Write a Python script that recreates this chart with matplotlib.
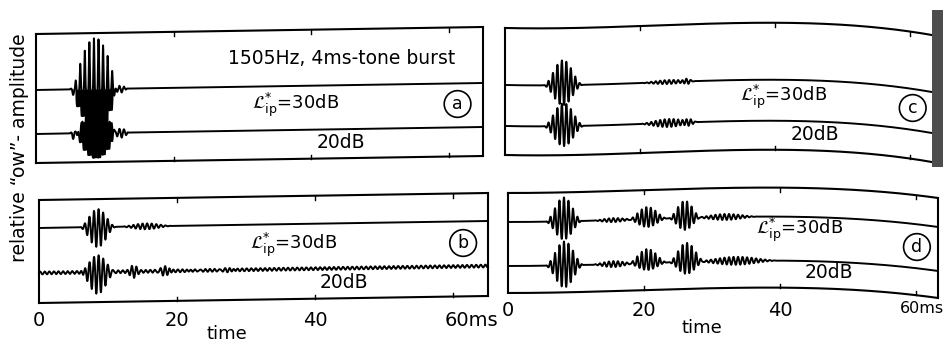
import numpy as np
import matplotlib.pyplot as plt
from matplotlib.patches import Rectangle
import matplotlib.transforms as mtransforms
from numpy.lib.stride_tricks import sliding_window_view

# 1505 Hz tone burst responses, time in ms, amplitudes in scan pixels
freq = 1.505  # cycles per ms
t = np.linspace(0, 66, 6000)

# bursts: (start ms, end ms, peak up, peak down)
a30_bursts = [(4.9, 6.3, 2, 6), (5.6, 11.6, 51, 42), (11.3, 13.2, 3, 4)]
a20_bursts = [(4.9, 6.3, 2, 6), (5.9, 11.5, 22, 25), (11.3, 13.4, 4, 5)]
b30_bursts = [(5.8, 11.2, 18, 20), (11.5, 19.5, 3, 3)]
b20_bursts = [(5.8, 11.2, 17, 22), (12.6, 14.8, 5, 5), (16.8, 19.6, 5, 5),
              (21.0, 24.0, 2, 2), (25.5, 29.0, 3, 3)]
b20_floor = 1.4
c30_bursts = [(5.6, 11.6, 25, 20), (19.5, 29.0, 2, 2), (26.0, 28.0, 2.5, 2.5)]
c20_bursts = [(5.6, 11.8, 23, 20), (19.5, 29.0, 4, 4), (26.0, 28.5, 3, 3)]
d30_bursts = [(5.4, 11.0, 24, 18), (12.0, 19.0, 2, 2), (17.5, 23.5, 12, 8),
              (23.5, 28.5, 17, 12), (27.0, 37.0, 3, 3)]
d20_bursts = [(5.4, 11.2, 24, 22), (12.0, 19.0, 3, 3), (17.5, 23.5, 14, 7),
              (23.5, 29.0, 19, 12), (27.0, 40.0, 4, 4)]

# bending of the recorder paper (px up, relative to left end)
a_drift_t, a_drift = [0, 65], [0, 7]
b_drift_t, b_drift = [0, 65], [0, 7]
c_drift_t, c_drift = [0, 20, 42, 56, 64], [0, 2, 5, 0, -8]
d_drift_t, d_drift = [0, 20, 41, 56, 63], [0, 3, 5, 1, -5]

tick_times = [20, 40, 60]
tick_labels = ['0', '20', '40', '60ms']

W, H = 948, 351


def trace(bursts, floor=0.0, peaky=1.0, flat=1.0):
    y = floor * np.sin(2 * np.pi * freq * t)
    for start, end, up, down in bursts:
        inside = (t >= start) & (t <= end)
        env = np.where(inside, 0.5 * (1 - np.cos(2 * np.pi * (t - start) / (end - start))), 0)
        env = env ** flat
        s = np.sin(2 * np.pi * freq * (t - start))
        y = y + env * (up * np.clip(s, 0, None) ** peaky + down * np.clip(s, None, 0))
    return y


def rolling(y, fn):
    # min / max over one carrier period, to mimic the smeared ink of an overdriven pen
    n = int(round(len(t) / t[-1] / freq))
    pad = np.pad(y, (n // 2, n - 1 - n // 2), mode='edge')
    return fn(sliding_window_view(pad, n), axis=1)


def draw_panel(left, right, top, bottom, xmax, base1, base2, y1, y2, drift_t, drift,
               labels=False, last_off=0, smear=False):
    ax = fig.add_axes([left / W, 1 - bottom / H, (right - left) / W, (bottom - top) / H])
    h = bottom - top
    ax.set_xlim(0, xmax)
    ax.set_ylim(0, h)
    for s in ax.spines.values():
        s.set_visible(False)
    ax.set_yticks([])
    deg = min(len(drift_t) - 1, 3)
    coef = np.polyfit(drift_t, drift, deg)
    m = t <= xmax
    tt = t[m]
    dr = np.polyval(coef, tt)
    kw = dict(color='black', lw=1.5, clip_on=False, solid_joinstyle='round')
    # frame
    ax.plot(tt, h + dr, **kw)
    ax.plot(tt, dr, **kw)
    d0 = np.polyval(coef, 0)
    d1 = np.polyval(coef, tt[-1])
    ax.plot([0, 0], [d0, h + d0], **kw)
    ax.plot([tt[-1], tt[-1]], [d1, h + d1], **kw)
    for x in tick_times:
        dx = np.polyval(coef, x)
        ax.plot([x, x], [h + dx, h + dx - 4], color='black', lw=1.0, clip_on=False)
        ax.plot([x, x], [dx, dx + 4], color='black', lw=1.0, clip_on=False)
    # traces
    ax.plot(tt, base1 + dr + y1[m], color='black', lw=1.4, clip_on=False)
    ax.plot(tt, base2 + dr + y2[m], color='black', lw=1.4, clip_on=False)
    if smear:
        lo1 = rolling(y1, np.min)[m]
        lo2, hi2 = rolling(y2, np.min)[m], rolling(y2, np.max)[m]
        big1 = lo1 < -8
        big2 = (hi2 - lo2) > 12
        ax.fill_between(tt, base1 + dr + lo1, base1 + dr, where=big1, color='black', lw=0)
        ax.fill_between(tt, base2 + dr + lo2, base2 + dr + hi2, where=big2, color='black', lw=0)
    if labels:
        ax.set_xticks([0] + tick_times)
        ax.set_xticklabels(tick_labels, fontsize=14)
        ax.tick_params(axis='x', length=0, pad=6)
        last = ax.get_xticklabels()[-1]
        off = mtransforms.ScaledTranslation(last_off / 100, 0, fig.dpi_scale_trans)
        last.set_transform(last.get_transform() + off)
    else:
        ax.set_xticks([])
    return ax


fig = plt.figure(figsize=(W / 100, H / 100), dpi=100)

Lip = r'$\mathcal{L}^{*}_{\mathrm{ip}}$=30dB'
circ = dict(boxstyle='circle,pad=0.25', fc='white', ec='black', lw=1.2)

ax_a = draw_panel(36, 483, 34, 163, 65.0, 73, 29,
                  trace(a30_bursts, peaky=2.5, flat=0.4), trace(a20_bursts, flat=0.4),
                  a_drift_t, a_drift, smear=True)
ax_a.text(44.5, 105, '1505Hz, 4ms-tone burst', ha='center', va='center', fontsize=13.5)
ax_a.text(37.8, 58, Lip, ha='center', va='center', fontsize=13)
ax_a.text(44.4, 20, '20dB', ha='center', va='center', fontsize=13.5)
ax_a.text(61.3, 59, 'a', ha='center', va='center', fontsize=12.5, bbox=circ)

ax_b = draw_panel(39, 488, 200, 303, 65.0, 75, 30,
                  trace(b30_bursts), trace(b20_bursts, floor=b20_floor), b_drift_t, b_drift,
                  labels=True, last_off=18)
ax_b.text(36.8, 58, Lip, ha='center', va='center', fontsize=13)
ax_b.text(44.2, 20, '20dB', ha='center', va='center', fontsize=13.5)
ax_b.text(61.4, 60, 'b', ha='center', va='center', fontsize=12.5, bbox=circ)

ax_c = draw_panel(505, 937, 28, 155, 64.0, 70, 29,
                  trace(c30_bursts), trace(c20_bursts), c_drift_t, c_drift)
ax_c.text(41.3, 58, Lip, ha='center', va='center', fontsize=13)
ax_c.text(45.9, 20, '20dB', ha='center', va='center', fontsize=13.5)
ax_c.text(60.4, 47, 'c', ha='center', va='center', fontsize=12.5, bbox=circ)

ax_d = draw_panel(508, 938, 193, 293, 63.2, 71, 27,
                  trace(d30_bursts), trace(d20_bursts), d_drift_t, d_drift,
                  labels=True, last_off=6)
ax_d.text(42.9, 63, Lip, ha='center', va='center', fontsize=13)
ax_d.text(47.2, 20, '20dB', ha='center', va='center', fontsize=13.5)
ax_d.text(60.1, 46, 'd', ha='center', va='center', fontsize=12.5, bbox=circ)
last_d = ax_d.get_xticklabels()[-1]
last_d.set_fontsize(11.5)

fig.text(20 / W, 1 - 148 / H, 'relative \u201cow\u201d- amplitude', rotation=90,
         ha='center', va='center', fontsize=13.5)
fig.text(227 / W, 1 - 334 / H, 'time', ha='center', va='center', fontsize=13)
fig.text(702 / W, 1 - 328 / H, 'time', ha='center', va='center', fontsize=13)

# dark strip at the right edge of the scan
fig.add_artist(Rectangle((932 / W, 1 - 167 / H), 11 / W, 157 / H, transform=fig.transFigure,
                         fc='0.3', ec='none'))

fig.savefig('out.png', dpi=100)
